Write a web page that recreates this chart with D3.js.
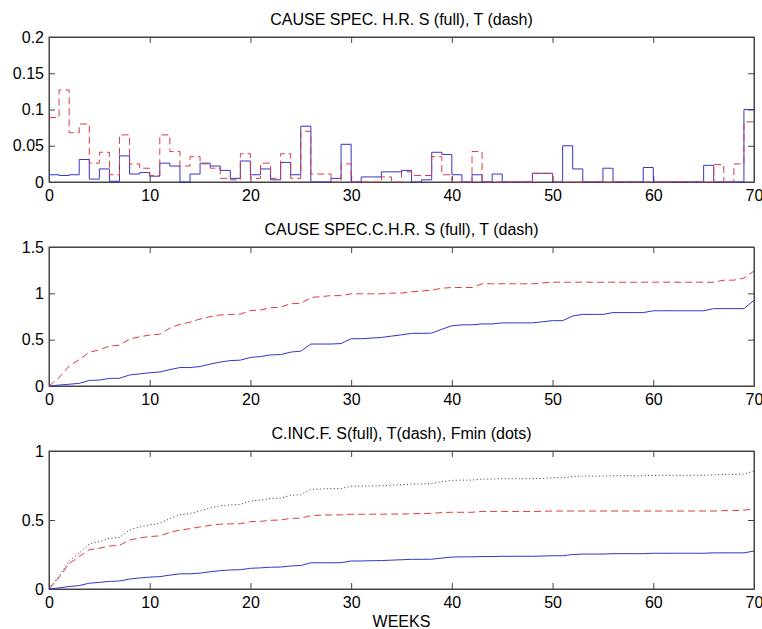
<!DOCTYPE html>
<html>
<meta charset="utf-8">
<title>Cause specific hazards</title>
<style>
body { margin: 0; background: #fff; }
svg text { font-family: "Liberation Sans", Arial, sans-serif; font-size: 16px; fill: #000; }
.axis path, .axis line { stroke: #444; }
.axis text { font-size: 16px; }
</style>
<body>
<svg></svg>
<script src="https://d3js.org/d3.v7.min.js"></script>
<script>

// weekly cause specific hazard rates, weeks 0..69 (stairs)
var sHazard = [0.010,0.009,0.010,0.031,0.004,0.018,0.001,0.036,0.011,0.013,
  0.008,0.026,0.022,0,0.011,0.026,0.022,0.016,0.005,0.029,
  0.010,0.018,0.003,0.027,0.010,0.077,0,0,0.005,0.052,
  0,0.007,0.007,0.014,0.014,0.016,0,0.003,0.041,0.038,
  0.010,0,0.010,0,0.011,0,0,0,0.012,0.012,
  0,0.050,0.018,0,0,0.019,0,0,0,0.020,
  0,0,0,0,0,0.023,0,0,0,0.100];
var tHazard = [0.089,0.127,0.068,0.080,0.026,0.041,0.010,0.065,0.025,0.019,
  0.009,0.065,0.042,0.022,0.035,0.025,0.019,0.005,0.003,0.039,
  0.005,0.026,0.005,0.039,0.005,0.070,0.011,0.011,0,0.025,
  0,0,0,0.007,0,0.014,0.009,0.009,0.035,0.010,
  0,0,0.042,0,0,0,0,0,0.012,0.012,
  0,0,0,0,0,0,0,0,0,0,
  0,0,0,0,0,0,0.024,0,0.025,0.083];

// cumulative hazard, weeks 0..70
var sCum = [0,0.010,0.019,0.029,0.060,0.064,0.082,0.083,0.119,0.130,
  0.143,0.151,0.177,0.199,0.199,0.210,0.236,0.258,0.274,0.279,
  0.308,0.318,0.336,0.339,0.366,0.376,0.453,0.453,0.453,0.458,
  0.510,0.510,0.517,0.524,0.538,0.552,0.568,0.568,0.571,0.612,
  0.650,0.660,0.660,0.670,0.670,0.681,0.681,0.681,0.681,0.693,
  0.705,0.705,0.755,0.773,0.773,0.773,0.792,0.792,0.792,0.792,
  0.812,0.812,0.812,0.812,0.812,0.812,0.835,0.835,0.835,0.835,
  0.925];
var tCum = [0,0.089,0.216,0.284,0.364,0.390,0.431,0.441,0.506,0.531,
  0.550,0.559,0.624,0.666,0.688,0.723,0.748,0.767,0.772,0.775,
  0.814,0.819,0.845,0.850,0.889,0.890,0.955,0.965,0.975,0.975,
  0.995,0.995,0.995,0.995,1.002,1.002,1.016,1.025,1.034,1.055,
  1.063,1.063,1.063,1.103,1.103,1.103,1.103,1.103,1.103,1.112,
  1.120,1.120,1.120,1.120,1.120,1.120,1.120,1.120,1.120,1.120,
  1.120,1.120,1.120,1.120,1.120,1.120,1.120,1.142,1.142,1.165,
  1.240];

// cumulative incidence, weeks 0..70
var sCif = [0,0.008,0.018,0.025,0.042,0.048,0.055,0.058,0.072,0.080,
  0.086,0.090,0.100,0.110,0.110,0.115,0.125,0.133,0.138,0.140,
  0.150,0.153,0.158,0.159,0.167,0.170,0.190,0.190,0.190,0.191,
  0.203,0.203,0.205,0.206,0.209,0.212,0.215,0.215,0.216,0.224,
  0.231,0.233,0.233,0.235,0.235,0.237,0.237,0.237,0.237,0.239,
  0.241,0.241,0.250,0.253,0.253,0.253,0.256,0.256,0.256,0.256,
  0.259,0.259,0.259,0.259,0.259,0.259,0.262,0.262,0.262,0.262,
  0.275];
var tCif = [0,0.085,0.185,0.235,0.285,0.295,0.312,0.316,0.355,0.370,
  0.380,0.385,0.410,0.428,0.437,0.450,0.462,0.470,0.472,0.473,
  0.488,0.490,0.498,0.500,0.512,0.513,0.532,0.535,0.537,0.537,
  0.542,0.542,0.542,0.542,0.543,0.543,0.545,0.547,0.548,0.554,
  0.556,0.556,0.556,0.562,0.562,0.562,0.562,0.562,0.562,0.563,
  0.565,0.565,0.565,0.565,0.565,0.565,0.565,0.565,0.565,0.565,
  0.565,0.565,0.565,0.565,0.565,0.565,0.565,0.568,0.568,0.571,
  0.580];
var fMin = [0,0.093,0.203,0.260,0.327,0.343,0.367,0.374,0.427,0.450,
  0.466,0.475,0.510,0.538,0.547,0.565,0.587,0.603,0.610,0.613,
  0.638,0.643,0.656,0.659,0.679,0.683,0.722,0.725,0.727,0.728,
  0.745,0.745,0.747,0.748,0.752,0.755,0.760,0.762,0.764,0.778,
  0.787,0.789,0.789,0.797,0.797,0.799,0.799,0.799,0.799,0.802,
  0.806,0.806,0.815,0.818,0.818,0.818,0.821,0.821,0.821,0.821,
  0.824,0.824,0.824,0.824,0.824,0.824,0.827,0.830,0.830,0.833,
  0.855];

var xTicks = [0,10,20,30,40,50,60,70];
var titles = ["CAUSE SPEC. H.R. S (full), T (dash)",
              "CAUSE SPEC.C.H.R. S (full), T (dash)",
              "C.INC.F. S(full), T(dash), Fmin (dots)"];

var width = 762, height = 629;
var svg = d3.select("svg").attr("width", width).attr("height", height);

var left = 49, right = 754;
var x = d3.scaleLinear().domain([0, 70]).range([left, right]);

var blue = "#3535c8", red = "#dc3a46";

function panel(top, bottom, title, yMax, yTicks) {
  var y = d3.scaleLinear().domain([0, yMax]).range([bottom, top]);
  var g = svg.append("g");

  g.append("g").attr("class", "axis")
      .attr("transform", "translate(0," + bottom + ")")
      .call(d3.axisBottom(x).tickValues(xTicks).tickSizeInner(-6).tickSizeOuter(0).tickPadding(8));
  g.append("g").attr("class", "axis")
      .attr("transform", "translate(0," + top + ")")
      .call(d3.axisTop(x).tickValues(xTicks).tickSizeInner(-6).tickSizeOuter(0).tickFormat(""));
  g.append("g").attr("class", "axis")
      .attr("transform", "translate(" + left + ",0)")
      .call(d3.axisLeft(y).tickValues(yTicks).tickSizeInner(-6).tickSizeOuter(0).tickPadding(5).tickFormat(d3.format("")));
  g.append("g").attr("class", "axis")
      .attr("transform", "translate(" + right + ",0)")
      .call(d3.axisRight(y).tickValues(yTicks).tickSizeInner(-6).tickSizeOuter(0).tickFormat(""));

  g.selectAll(".axis .tick text").attr("fill", "#000");

  g.append("text")
      .attr("x", (left + right) / 2)
      .attr("y", top - 12)
      .attr("text-anchor", "middle")
      .text(title);

  g.append("rect")
      .attr("x", left).attr("y", top)
      .attr("width", right - left).attr("height", bottom - top)
      .attr("fill", "none").attr("stroke", "#444");

  return { g: g, y: y };
}

function draw(p, values, color, dash, curve) {
  var line = d3.line()
      .x(function(d, i) { return x(i); })
      .y(function(d) { return p.y(d); })
      .curve(curve || d3.curveLinear);
  p.g.append("path")
      .datum(values)
      .attr("d", line)
      .attr("fill", "none")
      .attr("stroke", color)
      .attr("stroke-width", 1)
      .attr("stroke-dasharray", dash);
}

// top: stairs of hazards (last step carried to week 70)
var p1 = panel(37, 182, titles[0], 0.2, [0, 0.05, 0.1, 0.15, 0.2]);
draw(p1, sHazard.concat([sHazard[sHazard.length - 1]]), blue, null, d3.curveStepAfter);
draw(p1, tHazard.concat([tHazard[tHazard.length - 1]]), red, "7,4", d3.curveStepAfter);

// middle: cumulative hazards
var p2 = panel(247, 386, titles[1], 1.5, [0, 0.5, 1, 1.5]);
draw(p2, sCum, blue, null);
draw(p2, tCum, red, "7,4");

// bottom: cumulative incidence
var p3 = panel(451, 589, titles[2], 1, [0, 0.5, 1]);
draw(p3, sCif, blue, null);
draw(p3, tCif, red, "7,4");
draw(p3, fMin, "#333", "1,2.5");

svg.append("text")
    .attr("x", (left + right) / 2)
    .attr("y", 627)
    .attr("text-anchor", "middle")
    .text("WEEKS");

</script>
</body>
</html>
